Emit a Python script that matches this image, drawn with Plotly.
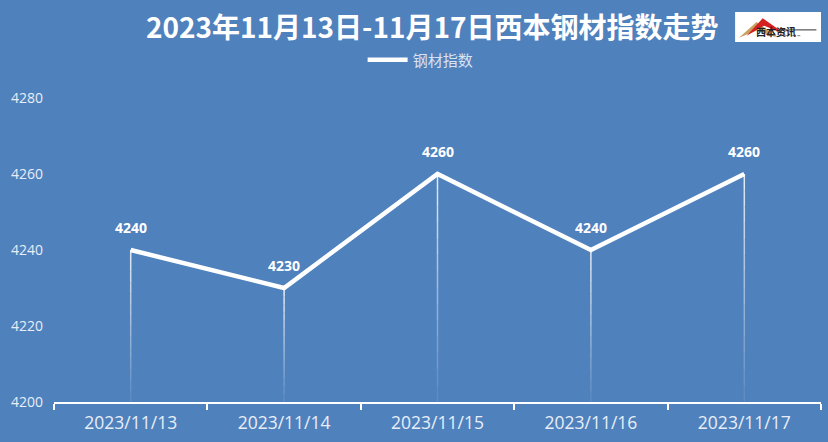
import plotly.graph_objects as go

dates = ["2023/11/13", "2023/11/14", "2023/11/15", "2023/11/16", "2023/11/17"]
values = [4240, 4230, 4260, 4240, 4260]
y_ticks = [4200, 4220, 4240, 4260, 4280]
series_name = "钢材指数"
title_text = "2023年11月13日-11月17日西本钢材指数走势"

BG = "#4F81BD"
fig = go.Figure()

# fading drop lines from each point to the axis
n_seg = 14
shapes = []
for d, v in zip(dates, values):
    span = v - 4200
    for k in range(n_seg):
        y0 = v - span * k / n_seg
        y1 = v - span * (k + 1) / n_seg
        op = 0.8 * (1 - k / n_seg) + 0.03
        shapes.append(dict(type="line", xref="x", yref="y", x0=d, x1=d, y0=y0, y1=y1,
                           line=dict(color="rgba(255,255,255,%.3f)" % op, width=1.5), layer="below"))

fig.add_trace(go.Scatter(
    x=dates, y=values, mode="lines", name=series_name,
    line=dict(color="white", width=4.5),
    cliponaxis=False,
))

annotations = []
for d, v in zip(dates, values):
    annotations.append(dict(x=d, y=v, xref="x", yref="y", text=str(v), showarrow=False,
                            yshift=23, font=dict(family="Open Sans, sans-serif", size=14,
                                                 color="white", weight="bold")))

# logo box
shapes.append(dict(type="rect", xref="paper", yref="paper", x0=0.888, x1=1.0, y0=1.184, y1=1.283,
                   fillcolor="white", line=dict(width=0), layer="above"))
shapes.append(dict(type="path", xref="paper", yref="paper",
                   path="M 0.893 1.198 L 0.916 1.250 L 0.942 1.200 L 0.916 1.222 Z",
                   fillcolor="#c8a060", line=dict(width=0)))
shapes.append(dict(type="path", xref="paper", yref="paper",
                   path="M 0.903 1.205 L 0.924 1.262 L 0.955 1.207 L 0.926 1.238 Z",
                   fillcolor="#d42020", line=dict(width=0)))
shapes.append(dict(type="line", xref="paper", yref="paper", x0=0.945, x1=0.994, y0=1.224, y1=1.224,
                   line=dict(color="#333", width=1)))
shapes.append(dict(type="line", xref="paper", yref="paper", x0=0.930, x1=0.975, y0=1.205, y1=1.205,
                   line=dict(color="#888", width=1, dash="dot")))
annotations.append(dict(text="西本资讯", xref="paper", yref="paper", x=0.970, y=1.250,
                        showarrow=False, font=dict(family="Noto Sans CJK SC", size=10, color="#222",
                                                   weight="bold")))

fig.update_layout(
    width=828, height=442,
    paper_bgcolor=BG, plot_bgcolor=BG,
    margin=dict(l=54, r=7, t=98, b=40, autoexpand=False),
    title=dict(text=title_text, x=0.522, xanchor="center", y=1 - 28 / 442, yanchor="middle",
               font=dict(family="Noto Sans CJK SC", size=28, color="white", weight="bold")),
    showlegend=True,
    legend=dict(orientation="h", x=0.478, xanchor="center", y=1.125, yanchor="middle",
                bgcolor="rgba(0,0,0,0)", itemwidth=40,
                font=dict(family="Noto Sans CJK SC", size=15, color="#d8e2f0")),
    shapes=shapes,
    annotations=annotations,
    xaxis=dict(
        type="category", showgrid=False, zeroline=False,
        showline=True, linecolor="white", linewidth=2,
        ticks="outside", tickson="boundaries", ticklen=6, tickcolor="white", tickwidth=2,
        tickfont=dict(family="Open Sans, sans-serif", size=17.5, color="#e8eef7"),
        ticklabelstandoff=4,
        range=[-0.5, 4.5],
    ),
    yaxis=dict(
        range=[4200, 4280], tickvals=y_ticks, showgrid=False, zeroline=False, showline=False,
        tickfont=dict(family="Open Sans, sans-serif", size=14, color="#e8eef7"),
        ticklabelstandoff=10,
    ),
)

fig.write_html("out.html", config={"displayModeBar": False},
               post_script="document.body.style.margin='0';document.body.style.background='%s';" % BG)
